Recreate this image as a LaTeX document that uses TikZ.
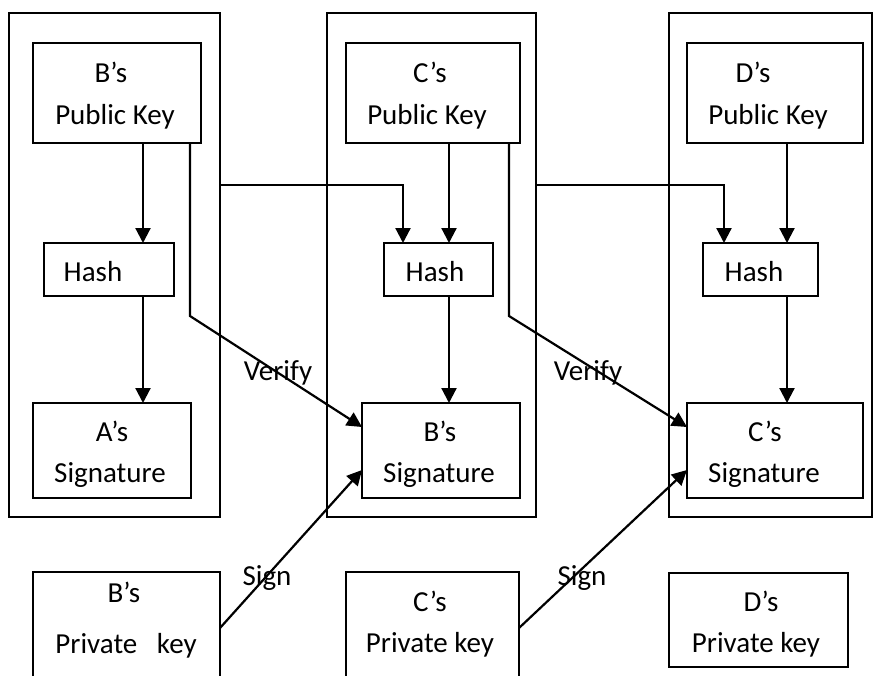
\documentclass[tikz,border=0pt]{standalone}
\usepackage{fontspec}
\setmainfont{Carlito}
\usetikzlibrary{arrows.meta}

\begin{document}
\begin{tikzpicture}[x=1pt,y=-1pt,
  box/.style={draw=black, line width=1.8pt, rectangle, inner sep=0pt, outer sep=0pt},
  frame/.style={draw=black, line width=1.6pt, rectangle, inner sep=0pt, outer sep=0pt},
  txt/.style={anchor=base, inner sep=0pt, font=\fontsize{29}{35}\selectfont},
  arr/.style={line width=2.2pt, -{Triangle[length=15pt,width=15pt]}},
  wire/.style={line width=2.2pt}]
\useasboundingbox (0,0) rectangle (873,675);

% outer frames, one per participant
\node[frame, minimum width=211pt, minimum height=504pt] (outerB) at (114.5,265) {};
\node[frame, minimum width=209pt, minimum height=504pt] (outerC) at (431.5,265) {};
\node[frame, minimum width=203pt, minimum height=504pt] (outerD) at (770.5,265) {};

% public keys
\node[box, minimum width=168pt, minimum height=100pt] (bpub) at (117,93) {};
\node[box, minimum width=174pt, minimum height=100pt] (cpub) at (433,93) {};
\node[box, minimum width=176pt, minimum height=100pt] (dpub) at (775,93) {};

% hashes
\node[box, minimum width=130pt, minimum height=53pt] (hash1) at (109,269.5) {};
\node[box, minimum width=109pt, minimum height=53pt] (hash2) at (438.5,269.5) {};
\node[box, minimum width=115pt, minimum height=53pt] (hash3) at (760.5,269.5) {};

% signatures
\node[box, minimum width=158pt, minimum height=95pt] (asig) at (112,450.5) {};
\node[box, minimum width=158pt, minimum height=95pt] (bsig) at (441,450.5) {};
\node[box, minimum width=176pt, minimum height=95pt] (csig) at (775,450.5) {};

% private keys
\node[box, minimum width=187pt, minimum height=118pt] (bpriv) at (126.5,631) {};
\node[box, minimum width=173pt, minimum height=118pt] (cpriv) at (432.5,631) {};
\node[box, minimum width=179pt, minimum height=94pt] (dpriv) at (758.5,620) {};

% box texts
\node[txt] (tb1) at (111,82) {B’s};
\node[txt] (tb2) at (115,124) {Public Key};
\node[txt] (tc1) at (430,82) {C’s};
\node[txt] (tc2) at (427,124) {Public Key};
\node[txt] (td1) at (753,82) {D’s};
\node[txt] (td2) at (768,124) {Public Key};

\node[txt] (th1) at (93,281) {Hash};
\node[txt] (th2) at (435,281) {Hash};
\node[txt] (th3) at (754,281) {Hash};

\node[txt] (ta1) at (112,441) {A’s};
\node[txt] (ta2) at (110,482) {Signature};
\node[txt] (tbs1) at (440,441) {B’s};
\node[txt] (tbs2) at (439,482) {Signature};
\node[txt] (tcs1) at (765,441) {C’s};
\node[txt] (tcs2) at (764,482) {Signature};

\node[txt] (tbp1) at (124,602) {B’s};
\node[txt] (tbp2) at (126,653) {Private~~~key};
\node[txt] (tcp1) at (430,611) {C’s};
\node[txt] (tcp2) at (430,652) {Private key};
\node[txt] (tdp1) at (761,611) {D’s};
\node[txt] (tdp2) at (756,652) {Private key};

% vertical flow inside each frame
\draw[arr] (bpub.south -| 143,0) -- (hash1.north -| 143,0);
\draw[arr] (hash1.south -| 143,0) -- (asig.north -| 143,0);
\draw[arr] (cpub.south -| 449,0) -- (hash2.north -| 449,0);
\draw[arr] (hash2.south -| 449,0) -- (bsig.north -| 449,0);
\draw[arr] (dpub.south -| 787,0) -- (hash3.north -| 787,0);
\draw[arr] (hash3.south -| 787,0) -- (csig.north -| 787,0);

% links from one frame into the next hash
\draw[arr] (outerB.east |- 0,185) -| (hash2.north -| 403,0);
\draw[arr] (outerC.east |- 0,185) -| (hash3.north -| 724,0);

% verify paths
\draw[arr] (bpub.south -| 190,0) -- (190,316) -- (bsig.west |- 0,427);
\draw[arr] (cpub.south -| 509,0) -- (509,316) -- (csig.west |- 0,427);
\node[txt] (v1) at (278,380) {Verify};
\node[txt] (v2) at (588,380) {Verify};

% sign paths
\draw[arr] (bpriv.east |- 0,628) -- (bsig.west |- 0,470);
\draw[arr] (cpriv.east |- 0,628) -- (csig.west |- 0,470);
\node[txt] (s1) at (267,585) {Sign};
\node[txt] (s2) at (582,585) {Sign};
\end{tikzpicture}
\end{document}
